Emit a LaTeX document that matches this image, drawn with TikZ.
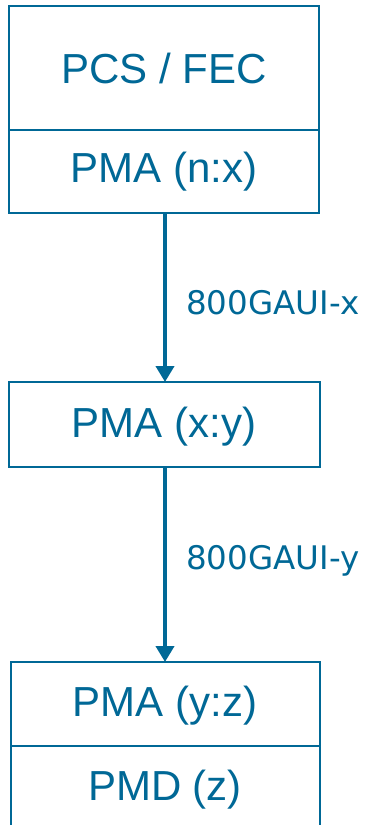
\documentclass[tikz,border=0pt]{standalone}
\usepackage{fontspec}
\setmainfont{Liberation Sans}
\newfontfamily\labelfont{DejaVu Sans}
\usetikzlibrary{arrows.meta}
\definecolor{ieeeblue}{RGB}{0,104,150}
\begin{document}
\begin{tikzpicture}[x=1pt,y=-1pt,
  box/.style={draw=ieeeblue,line width=2.2pt,fill=white},
  boxtext/.style={text=ieeeblue,font=\fontsize{42}{48}\selectfont,inner sep=0pt},
  lbl/.style={text=ieeeblue,font=\labelfont\fontsize{32.5}{38}\selectfont,inner sep=0pt,anchor=base west},
  conn/.style={draw=ieeeblue,line width=4.6pt,-{Triangle[length=16pt,width=18pt]}}]
\useasboundingbox (0,0) rectangle (367,825);
% box 1
\draw[box] (9,6) rectangle (319,213);
\draw[box] (9,130) -- (319,130);
\node[boxtext] (pcs) at (164,68) {PCS / FEC};
\node[boxtext] (pma1) at (164,172) {PMA (n:x)};
\coordinate (b1) at (165,213);
% box 2
\draw[box] (9,382) rectangle (320,467);
\node[boxtext] (pma2) at (164,427) {PMA (x:y)};
\coordinate (t2) at (165,382);
\coordinate (b2) at (165,467);
% box 3
\draw[box] (11,662) rectangle (320,830);
\draw[box] (11,746) -- (320,746);
\node[boxtext] (pma3) at (165,706) {PMA (y:z)};
\node[boxtext] (pmd) at (165,790) {PMD (z)};
\coordinate (t3) at (165,662);
% connectors
\draw[conn] (b1) -- (t2);
\draw[conn] (b2) -- (t3);
\node[lbl] (l1) at (186,314) {800GAUI-x};
\node[lbl] (l2) at (186,569) {800GAUI-y};
\end{tikzpicture}
\end{document}
